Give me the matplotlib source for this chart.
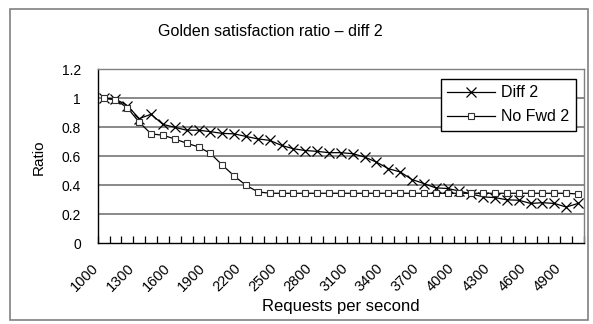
import matplotlib.pyplot as plt
from matplotlib.patches import Rectangle
from matplotlib.transforms import ScaledTranslation

plt.rcParams['font.family'] = ['Liberation Sans', 'DejaVu Sans']

# ── Data ────────────────────────────────────────────────────────────────────
requests = [1000, 1100, 1200, 1300, 1400, 1500, 1600, 1700, 1800, 1900,
            2000, 2100, 2200, 2300, 2400, 2500, 2600, 2700, 2800, 2900,
            3000, 3100, 3200, 3300, 3400, 3500, 3600, 3700, 3800, 3900,
            4000, 4100, 4200, 4300, 4400, 4500, 4600, 4700, 4800, 4900,
            5000]

diff2 = [1.00, 0.995, 0.95, 0.86, 0.89, 0.82, 0.80, 0.78, 0.78, 0.77,
         0.758, 0.755, 0.737, 0.72, 0.71, 0.675, 0.652, 0.64, 0.634, 0.625,
         0.625, 0.618, 0.595, 0.56, 0.515, 0.492, 0.44, 0.412, 0.382, 0.378,
         0.36, 0.34, 0.32, 0.315, 0.30, 0.297, 0.275, 0.28, 0.275, 0.25,
         0.275]

nofwd2 = [1.00, 0.99, 0.935, 0.835, 0.755, 0.745, 0.72, 0.69, 0.665, 0.62,
          0.54, 0.465, 0.40, 0.355, 0.345, 0.345, 0.345, 0.345, 0.345, 0.345,
          0.345, 0.345, 0.345, 0.345, 0.345, 0.345, 0.345, 0.345, 0.345, 0.345,
          0.345, 0.345, 0.345, 0.345, 0.345, 0.345, 0.345, 0.345, 0.345, 0.345,
          0.34]

y_ticks = [0, 0.2, 0.4, 0.6, 0.8, 1.0, 1.2]
y_tick_labels = ['0', '0.2', '0.4', '0.6', '0.8', '1', '1.2']

W, H = 593, 324
fig = plt.figure(figsize=(W / 100, H / 100), dpi=100)
fig.patch.set_facecolor('white')

# chart-area frame
fig.patches.append(Rectangle((10 / W, 1 - 320 / H), 578 / W, 311 / H,
                             transform=fig.transFigure, fill=False,
                             edgecolor='#808080', linewidth=1.2))

ax = fig.add_axes([97.7 / W, 1 - 243.3 / H, (584 - 97.7) / W, (243.3 - 69.3) / H])

idx = list(range(len(requests)))
ax.plot(idx, diff2, color='black', linewidth=0.9, marker='x',
        markersize=6.5, markeredgewidth=0.9, label='Diff 2', zorder=3)
ax.plot(idx, nofwd2, color='black', linewidth=0.9, marker='s',
        markersize=4.5, markerfacecolor='white', markeredgecolor='#333333',
        markeredgewidth=0.8, label='No Fwd 2', zorder=3)

ax.set_xlim(-0.5, len(requests) - 0.5)
ax.set_ylim(0, 1.2)

# gridlines
for yv in y_ticks[1:]:
    ax.axhline(yv, color='#808080', linewidth=1.3, zorder=1)

ax.set_yticks(y_ticks)
ax.set_yticklabels(y_tick_labels, fontsize=10)
ax.tick_params(axis='y', length=0, pad=12)

lab_pos = idx[::3]
ax.set_xticks(lab_pos)
ax.set_xticklabels([str(requests[i]) for i in lab_pos], fontsize=10.5,
                   rotation=45, ha='right', va='top', rotation_mode='anchor')
ax.tick_params(axis='x', which='major', length=0, pad=13)
shift = ScaledTranslation(-0.12, 0, fig.dpi_scale_trans)
for lbl in ax.get_xticklabels():
    lbl.set_transform(lbl.get_transform() + shift)
ax.set_xticks([i - 0.5 for i in range(len(requests) + 1)], minor=True)
ax.tick_params(axis='x', which='minor', direction='in', length=5,
               width=0.9, color='black')

ax.spines['left'].set_color('black')
ax.spines['bottom'].set_color('black')
ax.spines['top'].set_color('#808080')
ax.spines['right'].set_color('#808080')
for s in ax.spines.values():
    s.set_linewidth(1.0)

leg = ax.legend(loc='upper right', bbox_to_anchor=(576 / W, 1 - 79 / H),
                bbox_transform=fig.transFigure, fontsize=11.5, frameon=True,
                fancybox=False, edgecolor='black', framealpha=1,
                handlelength=3.0, borderpad=0.4, labelspacing=0.55,
                handletextpad=0.4, borderaxespad=0)
leg.get_frame().set_linewidth(1.0)

fig.text(270 / W, 1 - 31 / H, 'Golden satisfaction ratio \u2013 diff 2',
         ha='center', va='center', fontsize=11.5)
fig.text(341 / W, 1 - 307 / H, 'Requests per second',
         ha='center', va='center', fontsize=12)
fig.text(39 / W, 1 - 157 / H, 'Ratio', ha='center', va='center',
         rotation=90, fontsize=11)

fig.savefig('out.png', dpi=100, facecolor='white')
